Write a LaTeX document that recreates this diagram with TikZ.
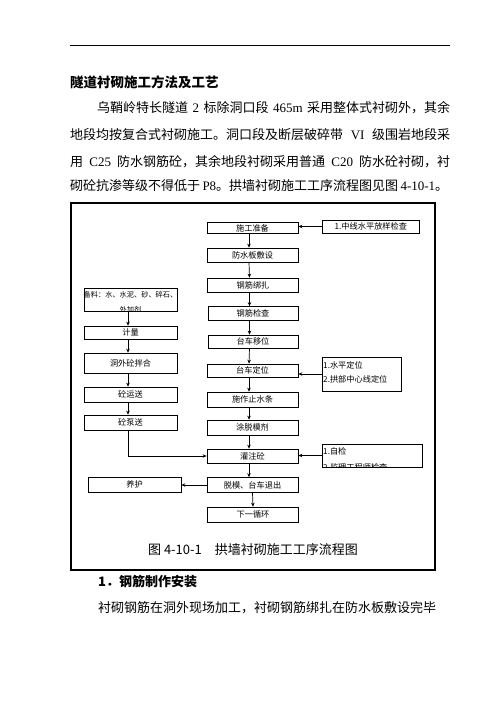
\documentclass[tikz,border=0pt]{standalone}
\usepackage{fontspec}
\usetikzlibrary{arrows.meta}
\setmainfont{Noto Sans CJK SC}
\newfontfamily\latf{Liberation Serif}
\XeTeXlinebreaklocale "zh"
\XeTeXlinebreakskip=0pt plus 4pt minus 0.5pt
\begin{document}
\begin{tikzpicture}[x=1pt,y=-1pt,
  box/.style={draw, line width=0.7pt, inner sep=0pt, minimum width=91pt, minimum height=14pt,
    font=\fontsize{8.2}{9}\selectfont},
  ftext/.style={inner sep=0pt, font=\fontsize{8.2}{9}\selectfont},
  para/.style={anchor=west, inner sep=0pt, font=\fontsize{13}{13}\selectfont},
  arr/.style={line width=0.7pt, -{Stealth[length=4pt,width=3.5pt]}}
]
\useasboundingbox[fill=white] (0,0) rectangle (496,702);

% header rule and text
\draw[line width=0.8pt] (70,45) -- (450,45);
\node[para, font=\fontsize{13.5}{13.5}\selectfont\bfseries] (title) at (70,82) {隧道衬砌施工方法及工艺};
\node[para] (p1) at (97,108) {\hbox to 353pt{乌鞘岭特长隧道 {\latf 2} 标除洞口段 {\latf 465m} 采用整体式衬砌外，其余}};
\node[para] (p2) at (70,135) {\hbox to 380pt{地段均按复合式衬砌施工。洞口段及断层破碎带 {\latf VI} 级围岩地段采}};
\node[para] (p3) at (70,162) {\hbox to 380pt{用 {\latf C25} 防水钢筋砼，其余地段衬砌采用普通 {\latf C20} 防水砼衬砌，衬}};
\node[para] (p4) at (70,186) {\hbox to 378pt{砌砼抗渗等级不得低于 {\latf P8}。拱墙衬砌施工工序流程图见图 {\latf 4-10-1}。}};

% frame
\draw[line width=1.6pt] (71,203) rectangle (435,570);

% main column
\node[box, minimum height=11pt] (a) at (252.5,228) {施工准备};
\node[box] (b) at (252.5,255) {防水板敷设};
\node[box] (c) at (253,285) {钢筋绑扎};
\node[box, minimum width=90pt] (d) at (253,313.5) {钢筋检查};
\node[box, minimum width=90pt, minimum height=13pt] (e) at (253,341.5) {台车移位};
\node[box, minimum height=13pt] (f) at (252.5,370.5) {台车定位};
\node[box, minimum height=15pt] (g) at (252.5,399.5) {施作止水条};
\node[box, minimum height=15pt] (h) at (252.5,427.5) {涂脱模剂};
\node[box] (i) at (252.5,456) {灌注砼};
\node[box, minimum height=15pt] (j) at (252.5,485) {脱模、台车退出};
\node[box, minimum height=15pt] (k) at (253,514.5) {下一循环};

\foreach \u/\v in {a/b,b/c,c/d,d/e,e/f,f/g,g/h,h/i,i/j}
  \draw[arr] ([xshift=-3.5pt]\u.south) -- ([xshift=-3.5pt]\v.north);
\draw[arr] (j.south) -- (k.north);

% right side boxes
\node[box, minimum width=97pt, minimum height=13pt, anchor=west] (s1) at (322,226.5) {1.中线水平放样检查};
\draw[arr] (s1.west) -- (s1.west -| a.east);

\node[box, minimum width=79pt, minimum height=34pt, anchor=west] (s2) at (322,374) {};
\node[ftext, anchor=west] (s2a) at (323,365) {1.水平定位};
\node[ftext, anchor=west] (s2b) at (323,379.5) {2.拱部中心线定位};
\draw[arr] (s2.west) -- (s2.west -| f.east);

\node[box, minimum width=100pt, minimum height=23pt, anchor=west] (s3) at (322,455.5) {};
\begin{scope}
  \clip (s3.south west) rectangle (s3.north east);
  \node[ftext, anchor=west] (s3a) at (323,451.5) {1.自检};
  \node[ftext, anchor=west] (s3b) at (323,467) {2.监理工程师检查};
\end{scope}
\draw[arr] (s3.west) -- (s3.west -| i.east);

% left column
\node[box, minimum width=93pt, minimum height=23pt] (l1) at (130.5,299.5) {};
\begin{scope}
  \clip (l1.south west) rectangle (l1.north east);
  \node[ftext, font=\fontsize{7.2}{8}\selectfont] (l1a) at (130.5,294.5) {备料：水、水泥、砂、碎石、};
  \node[ftext, font=\fontsize{7.2}{8}\selectfont] (l1b) at (130.5,310) {外加剂};
\end{scope}
\node[box, minimum width=93pt, minimum height=13pt] (l2) at (130.5,332.5) {计量};
\node[box, minimum width=93pt, minimum height=20pt] (l3) at (130.5,363) {洞外砼拌合};
\node[box, minimum width=93pt, minimum height=15pt] (l4) at (130.5,394.5) {砼运送};
\node[box, minimum width=93pt, minimum height=15pt] (l5) at (130.5,422.5) {砼泵送};
\node[box, minimum width=93pt, minimum height=15pt] (l6) at (134.5,484.5) {养护};

\foreach \u/\v in {l1/l2,l2/l3,l3/l4,l4/l5}
  \draw[arr] ([xshift=-2.5pt]\u.south) -- ([xshift=-2.5pt]\v.north);
\draw[arr] ([xshift=-2.5pt]l5.south) |- (i.west);
\draw[arr] (j.west) -- (j.west -| l6.east);

% caption
\node[inner sep=0pt, font=\fontsize{13}{13}\selectfont] (cap) at (253,550) {图 4-10-1\hspace{1em}拱墙衬砌施工工序流程图};

% following text
\node[para, font=\fontsize{13}{13}\selectfont\bfseries] (h1) at (98,582) {1．钢筋制作安装};
\node[para] (p5) at (98,608) {\hbox to 350pt{衬砌钢筋在洞外现场加工，衬砌钢筋绑扎在防水板敷设完毕}};
\end{tikzpicture}
\end{document}
